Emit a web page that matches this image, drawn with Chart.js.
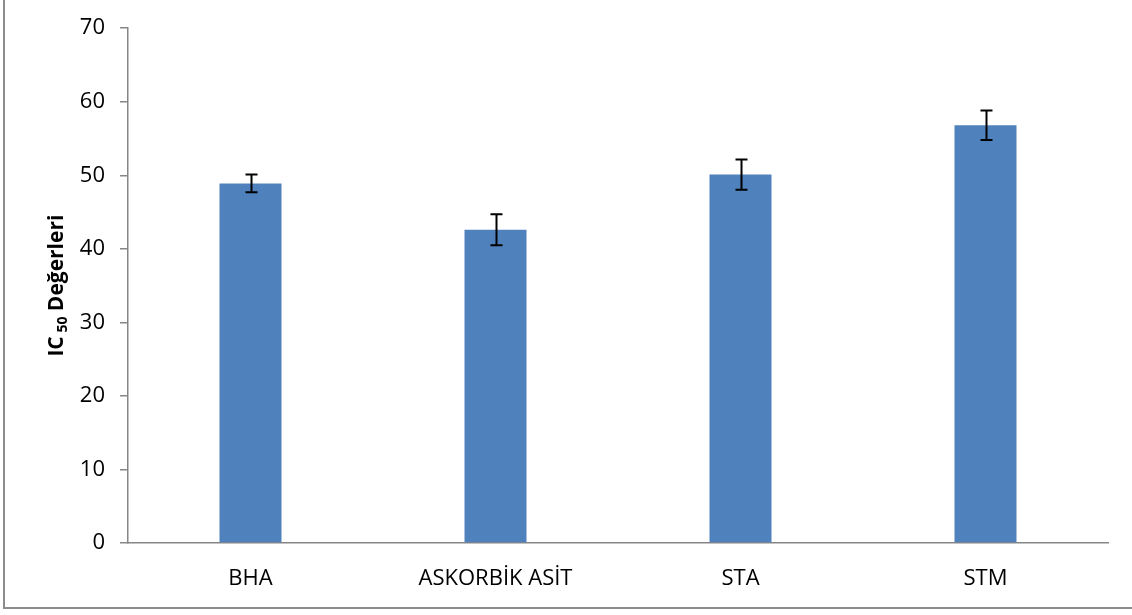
<!DOCTYPE html>
<html>
<head>
<meta charset="utf-8">
<script src="https://cdn.jsdelivr.net/npm/chart.js@4/dist/chart.umd.min.js"></script>
<style>
  html, body { margin: 0; padding: 0; background: #fff; }
  #wrap { position: relative; width: 1132px; height: 615px; }
</style>
</head>
<body>
<div id="wrap"><canvas id="chart"></canvas></div>
<script>
  // ===== Data =====
  const categories = ['BHA', 'ASKORBİK ASİT', 'STA', 'STM'];
  const ic50Values = [48.9, 42.6, 50.1, 56.8];
  const ic50Errors = [1.2, 2.1, 2.05, 2.0];
  const yTicks = [0, 10, 20, 30, 40, 50, 60, 70];

  const FONT = "'Open Sans', 'Liberation Sans', sans-serif";
  const AXIS_GRAY = '#868686';

  // ===== Plugins =====
  // error bars drawn from the bar elements and the y scale
  const errorBars = {
    id: 'errorBars',
    afterDatasetsDraw(chart) {
      const ctx = chart.ctx;
      const y = chart.scales.y;
      const meta = chart.getDatasetMeta(0);
      ctx.save();
      ctx.strokeStyle = '#000';
      ctx.lineWidth = 2;
      meta.data.forEach((bar, i) => {
        const top = y.getPixelForValue(ic50Values[i] + ic50Errors[i]);
        const bottom = y.getPixelForValue(ic50Values[i] - ic50Errors[i]);
        const x = Math.round(bar.x) + 0.5;
        ctx.beginPath();
        ctx.moveTo(x, top); ctx.lineTo(x, bottom);
        ctx.moveTo(x - 6, top); ctx.lineTo(x + 6, top);
        ctx.moveTo(x - 6, bottom); ctx.lineTo(x + 6, bottom);
        ctx.stroke();
      });
      ctx.restore();
    }
  };

  // y-axis title with subscript + outer frame lines
  const decorations = {
    id: 'decorations',
    afterDraw(chart) {
      const ctx = chart.ctx;
      ctx.save();
      // frame (left and bottom edges)
      ctx.strokeStyle = '#8c8c8c';
      ctx.lineWidth = 2;
      ctx.beginPath();
      ctx.moveTo(4, 0); ctx.lineTo(4, 608); ctx.lineTo(1132, 608);
      ctx.stroke();

      // axis title
      const mainFont = `bold 21px ${FONT}`;
      const subFont = `bold 14px ${FONT}`;
      ctx.font = mainFont;
      const wIC = ctx.measureText('IC').width;
      const wRest = ctx.measureText(' Değerleri').width;
      ctx.font = subFont;
      const wSub = ctx.measureText(' 50').width;
      const total = wIC + wSub + wRest;
      const cy = (chart.chartArea.top + chart.chartArea.bottom) / 2;
      ctx.translate(63, cy);
      ctx.rotate(-Math.PI / 2);
      ctx.fillStyle = '#000';
      ctx.textBaseline = 'alphabetic';
      ctx.textAlign = 'left';
      let x = -total / 2;
      ctx.font = mainFont;
      ctx.fillText('IC', x, 0);
      x += wIC;
      ctx.font = subFont;
      ctx.fillText(' 50', x, 4);
      x += wSub;
      ctx.font = mainFont;
      ctx.fillText(' Değerleri', x, 0);
      ctx.restore();
    }
  };

  // ===== Chart =====
  new Chart(document.getElementById('chart'), {
    type: 'bar',
    data: {
      labels: categories,
      datasets: [{
        data: ic50Values,
        backgroundColor: '#4F81BD',
        categoryPercentage: 1,
        barPercentage: 0.253
      }]
    },
    options: {
      responsive: true,
      maintainAspectRatio: false,
      animation: false,
      layout: { padding: { top: 22, right: 24, left: 0, bottom: 0 } },
      plugins: { legend: { display: false }, tooltip: { enabled: false } },
      scales: {
        x: {
          grid: { display: false },
          border: { display: true, color: AXIS_GRAY, width: 1.5 },
          ticks: { color: '#000', font: { family: FONT, size: 22 }, padding: 15, maxRotation: 0 },
          afterFit: (s) => { s.height = 72; }
        },
        y: {
          min: 0,
          max: 70,
          afterBuildTicks: (s) => { s.ticks = yTicks.map(v => ({ value: v })); },
          grid: { drawOnChartArea: false, drawTicks: true, tickLength: 8, color: AXIS_GRAY, lineWidth: 1.5 },
          border: { display: true, color: AXIS_GRAY, width: 1.5 },
          ticks: { color: '#000', font: { family: FONT, size: 22 }, padding: 15 },
          afterFit: (s) => { s.width = 128; }
        }
      }
    },
    plugins: [errorBars, decorations]
  });
</script>
</body>
</html>
